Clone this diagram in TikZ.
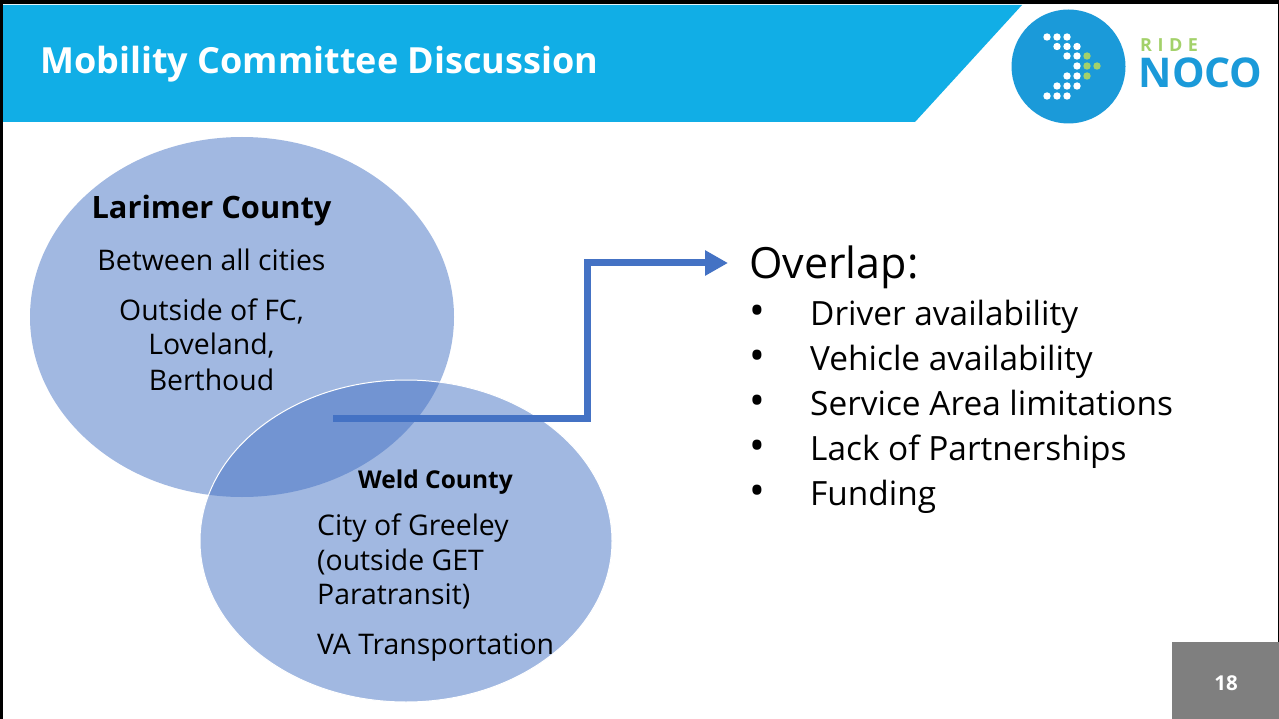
\documentclass[tikz,border=0pt]{standalone}
\usepackage{fontspec}
\setmainfont{Open Sans}
\usetikzlibrary{arrows.meta}
\definecolor{headblue}{HTML}{11AEE6}
\definecolor{logoblue}{HTML}{1B9AD9}
\definecolor{logogreen}{HTML}{A3D16A}
\definecolor{venn}{HTML}{4472C4}
\definecolor{pagegray}{HTML}{7F7F7F}
\newcommand{\fs}[1]{\fontsize{#1pt}{#1pt}\selectfont}
\tikzset{
  x=1pt,y=-1pt,
  vennfill/.style={fill=venn,fill opacity=.5,text opacity=1},
  label/.style={inner sep=0pt,text=black,align=center,anchor=base},
  listitem/.style={inner sep=0pt,text=black,anchor=base west},
  wdot/.style={circle,fill=white,minimum size=7.4pt,inner sep=0pt},
  gdot/.style={circle,fill=logogreen,minimum size=7.4pt,inner sep=0pt},
  link/.style={draw=venn,line width=7pt,-{Triangle[length=23pt,width=24pt]}},
}
\begin{document}
\begin{tikzpicture}
\useasboundingbox (0,0) rectangle (1279,719);
\fill[white] (0,0) rectangle (1279,719);
% header
\fill[headblue] (3,5) -- (1022,5) -- (915,122) -- (3,122) -- cycle;
\node[inner sep=0pt,text=white,anchor=base west] (title) at (40,74) {\fs{36}\bfseries Mobility Committee Discussion};
% logo
\fill[logoblue] (1068.5,66.5) circle[x radius=57,y radius=57];
\foreach \px/\py [count=\i] in {1047/37,1057/37,1067/37,1057/46.5,1067/46.5,1077/46.5,1067/56,1077/56,1077/66,1067/76,1077/76,1057/86,1067/86,1077/86,1047/96,1057/96,1067/96}
  \node[wdot] (w\i) at (\px,\py) {};
\foreach \px/\py [count=\i] in {1087/56,1087/66,1097/66,1087/76}
  \node[gdot] (g\i) at (\px,\py) {};
\node[inner sep=0pt,text=logogreen,anchor=base west] (ride) at (1140,52) {\fs{18}\bfseries R\kern 5.5pt I\kern 5.5pt D\kern 5.5pt E};
\node[inner sep=0pt,text=logoblue,anchor=base west] (noco) at (1138.5,88) {\fs{41}\bfseries NOCO};
% circles
\path[vennfill] (242,317) ellipse[x radius=212,y radius=180];
\path[vennfill,draw=white,draw opacity=1,line width=1pt] (406,541) ellipse[x radius=206,y radius=161];
\coordinate (start) at (333,418);
\coordinate (bendA) at (587,418);
\coordinate (bendB) at (587,263);
% overlap text
\node[inner sep=0pt,anchor=base west,text=black] (overlap) at (749,279) {\fs{43}Overlap:};
\draw[link] (start) -- (bendA) -- (bendB) -- ([xshift=-21pt]overlap.west |- bendB);
% left labels
\node[label] (lar) at (211.5,219) {\fs{30.8}\bfseries Larimer County};
\node[label] (lar1) at (211.5,271) {\fs{28.4}Between all cities};
\node[label] (lar2) at (211.5,320) {\fs{28.4}Outside of FC,};
\node[label] (lar3) at (211.5,354) {\fs{28.4}Loveland,};
\node[label] (lar4) at (211.5,390) {\fs{28.4}Berthoud};
\node[label] (weld) at (435.5,488) {\fs{24.5}\bfseries Weld County};
\node[inner sep=0pt,text=black,anchor=base west] (w1) at (317,535) {\fs{28.4}City of Greeley};
\node[inner sep=0pt,text=black,anchor=base west] (w2) at (317,570) {\fs{28.4}(outside GET};
\node[inner sep=0pt,text=black,anchor=base west] (w3) at (317,604) {\fs{28.4}Paratransit)};
\node[inner sep=0pt,text=black,anchor=base west] (w4) at (317,654) {\fs{28.4}VA Transportation};
% list
\foreach \t/\yy [count=\i] in {Driver availability/325,Vehicle availability/370,Service Area limitations/415,Lack of Partnerships/460,Funding/505}{
  \node[inner sep=0pt,anchor=base,text=black] (b\i) at (757,\yy) {\fs{42}•};
  \node[listitem] (l\i) at (810,\yy) {\fs{33.4}\t};
}
% page number
\fill[pagegray] (1172,642) rectangle (1279,719);
\node[inner sep=0pt,text=white,anchor=base] (page) at (1226,690) {\fs{20.5}\bfseries 18};
% frame
\fill[black] (0,0) rectangle (1279,4.5);
\fill[black] (0,0) rectangle (2.5,719);
\fill[black] (1277.5,0) rectangle (1279,642);
\end{tikzpicture}
\end{document}
